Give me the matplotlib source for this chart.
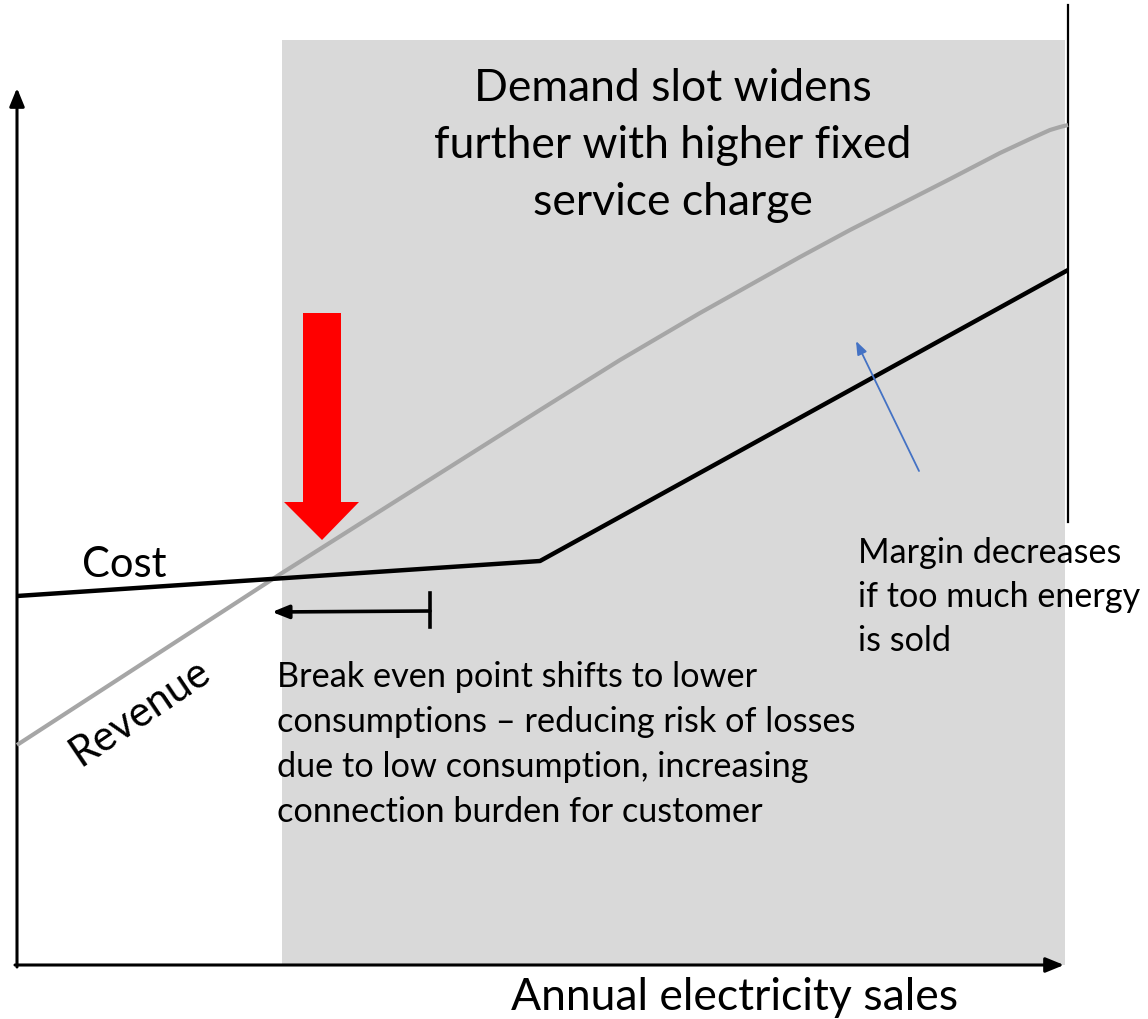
import matplotlib
matplotlib.use("Agg")
import matplotlib.pyplot as plt
from matplotlib.patches import Rectangle, Polygon
import numpy as np

plt.rcParams['font.family'] = ['Lato', 'DejaVu Sans']

# ---- data (diagram units: pixel-like canvas 1148 x 1019, y downwards) ----
cost_x = [17, 540, 1068]
cost_y = [596, 561, 270]
revenue_x = [17, 282, 540, 620, 700, 800, 850, 950, 1000, 1030, 1050, 1060, 1068]
revenue_y = [745, 573, 410, 360, 313, 257, 230, 179, 153, 139, 130, 127, 125]
slot_x = [282, 1065]
slot_y = [40, 965]
title_lines = ["Demand slot widens", "further with higher fixed", "service charge"]
break_even_text = ["Break even point shifts to lower",
                   "consumptions – reducing risk of losses",
                   "due to low consumption, increasing",
                   "connection burden for customer"]
margin_text = ["Margin decreases", "if too much energy", "is sold"]
xlabel = "Annual electricity sales"

W, H = 1148, 1019
fig = plt.figure(figsize=(W / 100, H / 100), dpi=100)
ax = fig.add_axes([0, 0, 1, 1])
ax.set_xlim(0, W)
ax.set_ylim(H, 0)
ax.axis('off')

# shaded demand slot
ax.add_patch(Rectangle((slot_x[0], slot_y[0]), slot_x[1] - slot_x[0], slot_y[1] - slot_y[0],
                       facecolor='#D9D9D9', edgecolor='none', zorder=0))

# right vertical line
ax.plot([1068, 1068], [5, 522], color='black', lw=1.6, zorder=2)

# axes arrows
ax.annotate('', xy=(17, 88), xytext=(17, 967),
            arrowprops=dict(arrowstyle='-|>,head_length=1.1,head_width=0.45', color='black', lw=2.2,
                            shrinkA=0, shrinkB=0), zorder=3)
ax.annotate('', xy=(1064, 965), xytext=(15, 965),
            arrowprops=dict(arrowstyle='-|>,head_length=1.1,head_width=0.45', color='black', lw=2.2,
                            shrinkA=0, shrinkB=0), zorder=3)

# lines
ax.plot(revenue_x, revenue_y, color='#A6A6A6', lw=3.0, zorder=3, solid_capstyle='butt',
        solid_joinstyle='round')
ax.plot(cost_x, cost_y, color='black', lw=3.2, zorder=4, solid_capstyle='butt')

# red arrow
red = Polygon([(303, 313), (341, 313), (341, 502), (359, 502), (322, 540),
               (284, 502), (303, 502)], closed=True, facecolor='#FF0000', edgecolor='none', zorder=5)
ax.add_patch(red)

# break-even shift arrow
ax.annotate('', xy=(272, 612), xytext=(430, 611),
            arrowprops=dict(arrowstyle='-|>,head_length=1.0,head_width=0.4', color='black', lw=2.6,
                            shrinkA=0, shrinkB=0), zorder=5)
ax.plot([430, 430], [593, 627], color='black', lw=2.6, zorder=5)

# blue arrow
ax.annotate('', xy=(856, 341), xytext=(919, 471),
            arrowprops=dict(arrowstyle='-|>,head_length=0.8,head_width=0.3', color='#4472C4', lw=1.3,
                            shrinkA=0, shrinkB=0), zorder=5)

# texts
for i, t in enumerate(title_lines):
    ax.text(673, 88 + i * 57, t, fontsize=32, ha='center', va='center', color='black')

for i, t in enumerate(break_even_text):
    ax.text(277, 677 + i * 45, t, fontsize=24.7, ha='left', va='center', color='black')

for i, t in enumerate(margin_text):
    ax.text(858, 553 + i * 44, t, fontsize=24.6, ha='left', va='center', color='black')

ax.text(124, 565, "Cost", fontsize=30, ha='center', va='center', color='black')
ax.text(140, 712, "Revenue", fontsize=30, ha='center', va='center', color='black', rotation=34)
ax.text(735, 998, xlabel, fontsize=32, ha='center', va='center', color='black')

fig.savefig('out.png', dpi=100)
